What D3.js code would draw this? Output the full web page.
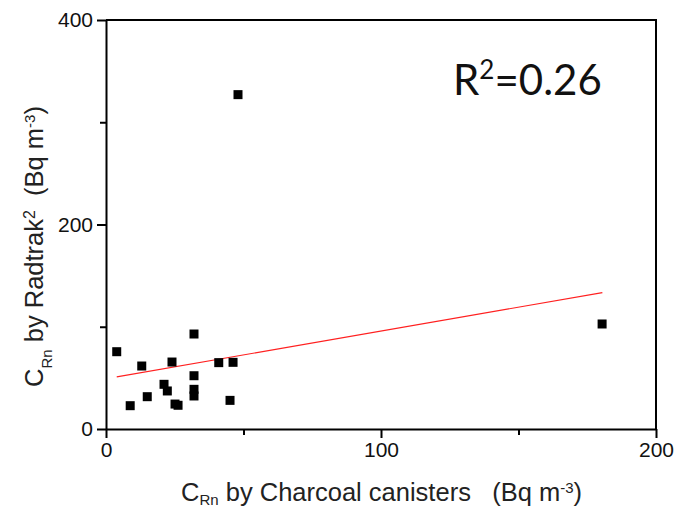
<!DOCTYPE html>
<html>
<head>
<meta charset="utf-8">
<script src="https://d3js.org/d3.v7.min.js"></script>
<style>
  body { margin: 0; background: #fff; }
  .axis text { font-family: "Liberation Sans", Arial, sans-serif; font-size: 21px; fill: #111; }
  .axis path, .axis line { stroke: #000; stroke-width: 2px; }
  .title { font-family: "Liberation Sans", Arial, sans-serif; font-size: 25.5px; fill: #222; }
</style>
</head>
<body>
<div id="chart"></div>
<script>
// charcoal canisters (x) vs Radtrak (y), Bq m-3
var xValues = [3.9, 8.8, 13, 15, 21.1, 22.3, 24, 25.1, 26.2, 32, 32, 32, 32, 41, 45.1, 46.2, 48, 180.4];
var yValues = [75.6, 22.8, 61.6, 31.6, 43.7, 37.2, 65.5, 24.4, 23.2, 92.9, 52.1, 38.8, 32.3, 64.9, 28, 65.2, 327, 102.7];
var xTicks = [0, 100, 200];
var yTicks = [0, 200, 400];
// linear fit
var fitIntercept = 49.1, fitSlope = 0.467;
var fitRange = [3.9, 180.5];
var rSquared = "0.26";

var margin = { top: 20, right: 20, bottom: 83, left: 106 },
  width = 676 - margin.left - margin.right,
  height = 512 - margin.top - margin.bottom;

var svg = d3
  .select("#chart")
  .append("svg")
  .attr("width", 676)
  .attr("height", 512);

var g = svg.append("g")
  .attr("transform", "translate(" + margin.left + "," + margin.top + ")");

var x = d3.scaleLinear().domain([0, 200]).range([0, width]);
var y = d3.scaleLinear().domain([0, 400]).range([height, 0]);

// frame (top and right sides)
g.append("path")
  .attr("d", "M0,0H" + width + "V" + height)
  .attr("fill", "none")
  .attr("stroke", "#000")
  .attr("stroke-width", 2);

// bottom axis, major + minor ticks
g.append("g")
  .attr("class", "axis")
  .attr("transform", "translate(0," + height + ")")
  .call(d3.axisBottom(x).tickValues(xTicks).tickSize(9).tickPadding(4).tickFormat(d3.format("d")).tickSizeOuter(0));
g.append("g")
  .attr("class", "axis")
  .attr("transform", "translate(0," + height + ")")
  .call(d3.axisBottom(x).tickValues([50, 150]).tickSize(6).tickFormat("").tickSizeOuter(0))
  .select(".domain").remove();

// left axis
g.append("g")
  .attr("class", "axis")
  .call(d3.axisLeft(y).tickValues(yTicks).tickSize(9).tickPadding(4).tickFormat(d3.format("d")).tickSizeOuter(0));
g.append("g")
  .attr("class", "axis")
  .call(d3.axisLeft(y).tickValues([100, 300]).tickSize(6).tickFormat("").tickSizeOuter(0))
  .select(".domain").remove();

// regression line
g.append("line")
  .attr("x1", x(fitRange[0]))
  .attr("y1", y(fitIntercept + fitSlope * fitRange[0]))
  .attr("x2", x(fitRange[1]))
  .attr("y2", y(fitIntercept + fitSlope * fitRange[1]))
  .attr("stroke", "#ff2020")
  .attr("stroke-width", 1.2);

// points
var pts = xValues.map(function (d, i) { return { x: d, y: yValues[i] }; });
g.selectAll("rect.pt")
  .data(pts)
  .enter()
  .append("rect")
  .attr("class", "pt")
  .attr("x", function (d) { return x(d.x) - 4.5; })
  .attr("y", function (d) { return y(d.y) - 4.5; })
  .attr("width", 9)
  .attr("height", 9)
  .attr("fill", "#000");

// R^2 label
var r2 = svg.append("text")
  .attr("x", 453)
  .attr("y", 95)
  .style("font-family", "Lato, 'Open Sans', sans-serif")
  .style("font-size", "42px")
  .style("fill", "#111");
r2.append("tspan").text("R");
r2.append("tspan").attr("baseline-shift", "super").style("font-size", "26px").text("2");
r2.append("tspan").text("=" + rSquared);

// x title
var xt = svg.append("text")
  .attr("class", "title")
  .attr("x", 181)
  .attr("y", 501);
xt.append("tspan").text("C");
xt.append("tspan").attr("baseline-shift", "-4").style("font-size", "15px").text("Rn");
xt.append("tspan").text(" by Charcoal canisters\u00a0\u00a0 (Bq m");
xt.append("tspan").attr("baseline-shift", "super").style("font-size", "15px").text("-3");
xt.append("tspan").text(")");

// y title
var yt = svg.append("text")
  .attr("class", "title")
  .attr("transform", "translate(43,387) rotate(-90)");
yt.append("tspan").text("C");
yt.append("tspan").attr("baseline-shift", "sub").style("font-size", "15px").text("Rn");
yt.append("tspan").text(" by Radtrak");
yt.append("tspan").attr("baseline-shift", "super").style("font-size", "16px").text("2");
yt.append("tspan").text("\u00a0\u00a0(Bq m");
yt.append("tspan").attr("baseline-shift", "super").style("font-size", "15px").text("-3");
yt.append("tspan").text(")");
</script>
</body>
</html>
